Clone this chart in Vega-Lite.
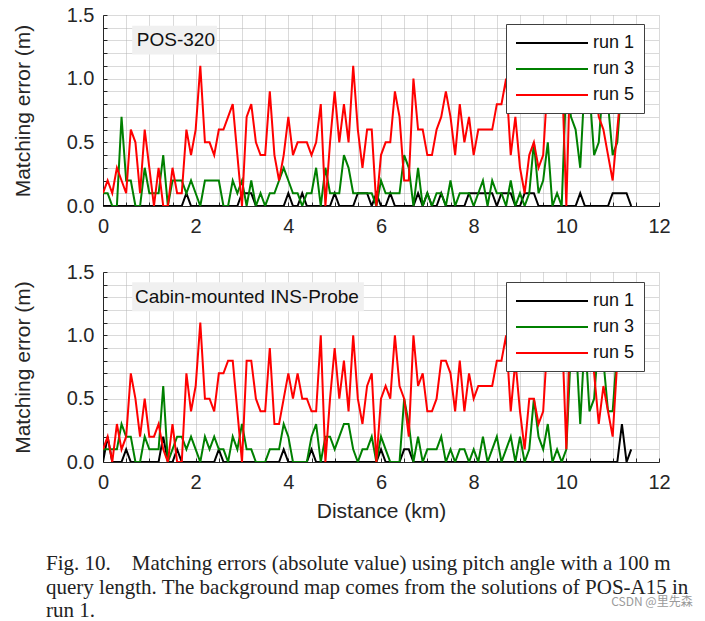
{
"$schema":"https://vega.github.io/schema/vega-lite/v6.json",
"background":"white",
"padding":{"left":12,"top":5,"right":5,"bottom":5},
"config":{"view":{"stroke":null},
"axis":{"labelFont":"Liberation Sans","titleFont":"Liberation Sans","labelFontSize":20,"titleFontSize":21,"titleFontWeight":"normal","labelColor":"#262626","titleColor":"#262626","domainColor":"#262626","tickColor":"#262626","grid":true,"gridColor":"#b4b4b4","gridDash":[1,1],"gridWidth":1,"gridOpacity":1,"ticks":true,"tickSize":-4,"labelFlush":false,"labelOverlap":false,"labelBound":false}},
"datasets":{
"top":[
{"d":0,"run 1":0,"run 3":0.1,"run 5":0.1},{"d":0.1,"run 1":0,"run 3":0.1,"run 5":0.2},{"d":0.2,"run 1":0,"run 3":0,"run 5":0.1},{"d":0.3,"run 1":0,"run 3":0,"run 5":0.3},{"d":0.4,"run 1":0,"run 3":0.7,"run 5":0.2},{"d":0.5,"run 1":0,"run 3":0.2,"run 5":0.1},{"d":0.6,"run 1":0,"run 3":0.2,"run 5":0.6},{"d":0.7,"run 1":0,"run 3":0,"run 5":0.5},{"d":0.8,"run 1":0,"run 3":0,"run 5":0.1},{"d":0.9,"run 1":0,"run 3":0.3,"run 5":0.6},
{"d":1.0,"run 1":0,"run 3":0.1,"run 5":0.3},{"d":1.1,"run 1":0,"run 3":0.1,"run 5":0},{"d":1.2,"run 1":0,"run 3":0.1,"run 5":0.3},{"d":1.3,"run 1":0,"run 3":0.4,"run 5":0},{"d":1.4,"run 1":0,"run 3":0,"run 5":0},{"d":1.5,"run 1":0,"run 3":0.2,"run 5":0.3},{"d":1.6,"run 1":0,"run 3":0.2,"run 5":0.1},{"d":1.7,"run 1":0,"run 3":0.2,"run 5":0.1},{"d":1.8,"run 1":0.1,"run 3":0.1,"run 5":0.6},{"d":1.9,"run 1":0,"run 3":0.2,"run 5":0.4},
{"d":2.0,"run 1":0,"run 3":0.1,"run 5":0.6},{"d":2.1,"run 1":0,"run 3":0,"run 5":1.1},{"d":2.2,"run 1":0,"run 3":0.2,"run 5":0.5},{"d":2.3,"run 1":0,"run 3":0.2,"run 5":0.5},{"d":2.4,"run 1":0,"run 3":0.2,"run 5":0.4},{"d":2.5,"run 1":0,"run 3":0.2,"run 5":0.6},{"d":2.6,"run 1":0,"run 3":0,"run 5":0.6},{"d":2.7,"run 1":0,"run 3":0,"run 5":0.7},{"d":2.8,"run 1":0,"run 3":0.2,"run 5":0.8},{"d":2.9,"run 1":0,"run 3":0.1,"run 5":0.4},
{"d":3.0,"run 1":0.1,"run 3":0.2,"run 5":0},{"d":3.1,"run 1":0.1,"run 3":0,"run 5":0.7},{"d":3.2,"run 1":0.1,"run 3":0.2,"run 5":0.8},{"d":3.3,"run 1":0,"run 3":0,"run 5":0.5},{"d":3.4,"run 1":0,"run 3":0.1,"run 5":0.4},{"d":3.5,"run 1":0,"run 3":0,"run 5":0.4},{"d":3.6,"run 1":0,"run 3":0.1,"run 5":0.9},{"d":3.7,"run 1":0,"run 3":0.1,"run 5":0.4},{"d":3.8,"run 1":0,"run 3":0.2,"run 5":0.2},{"d":3.9,"run 1":0,"run 3":0.3,"run 5":0.4},
{"d":4.0,"run 1":0.1,"run 3":0.2,"run 5":0.7},{"d":4.1,"run 1":0,"run 3":0.1,"run 5":0.4},{"d":4.2,"run 1":0,"run 3":0.1,"run 5":0.5},{"d":4.3,"run 1":0.1,"run 3":0,"run 5":0.5},{"d":4.4,"run 1":0,"run 3":0.1,"run 5":0.5},{"d":4.5,"run 1":0,"run 3":0.1,"run 5":0.4},{"d":4.6,"run 1":0,"run 3":0.3,"run 5":0.5},{"d":4.7,"run 1":0,"run 3":0,"run 5":0.8},{"d":4.8,"run 1":0,"run 3":0.3,"run 5":0},{"d":4.9,"run 1":0,"run 3":0.1,"run 5":0.5},
{"d":5.0,"run 1":0.1,"run 3":0.1,"run 5":0.9},{"d":5.1,"run 1":0,"run 3":0.1,"run 5":0.5},{"d":5.2,"run 1":0,"run 3":0.4,"run 5":0.8},{"d":5.3,"run 1":0,"run 3":0.3,"run 5":0.5},{"d":5.4,"run 1":0,"run 3":0.1,"run 5":1.1},{"d":5.5,"run 1":0.1,"run 3":0.1,"run 5":0.6},{"d":5.6,"run 1":0.1,"run 3":0.1,"run 5":0.3},{"d":5.7,"run 1":0.1,"run 3":0.1,"run 5":0.6},{"d":5.8,"run 1":0,"run 3":0.1,"run 5":0.6},{"d":5.9,"run 1":0.1,"run 3":0,"run 5":0},
{"d":6.0,"run 1":0,"run 3":0.2,"run 5":0.4},{"d":6.1,"run 1":0,"run 3":0.1,"run 5":0.5},{"d":6.2,"run 1":0.1,"run 3":0.1,"run 5":0.5},{"d":6.3,"run 1":0,"run 3":0.1,"run 5":0.9},{"d":6.4,"run 1":0,"run 3":0.1,"run 5":0.7},{"d":6.5,"run 1":0,"run 3":0.4,"run 5":0.2},{"d":6.6,"run 1":0,"run 3":0.3,"run 5":0.2},{"d":6.7,"run 1":0,"run 3":0,"run 5":1.0},{"d":6.8,"run 1":0.1,"run 3":0.3,"run 5":0.6},{"d":6.9,"run 1":0,"run 3":0,"run 5":0.6},
{"d":7.0,"run 1":0.1,"run 3":0.1,"run 5":0.4},{"d":7.1,"run 1":0,"run 3":0,"run 5":0.4},{"d":7.2,"run 1":0,"run 3":0.1,"run 5":0.6},{"d":7.3,"run 1":0.1,"run 3":0.1,"run 5":0.7},{"d":7.4,"run 1":0,"run 3":0,"run 5":0.9},{"d":7.5,"run 1":0,"run 3":0.2,"run 5":0.7},{"d":7.6,"run 1":0,"run 3":0,"run 5":0.4},{"d":7.7,"run 1":0,"run 3":0.1,"run 5":0.8},{"d":7.8,"run 1":0,"run 3":0.1,"run 5":0.5},{"d":7.9,"run 1":0.1,"run 3":0.1,"run 5":0.7},
{"d":8.0,"run 1":0.1,"run 3":0,"run 5":0.4},{"d":8.1,"run 1":0.1,"run 3":0.1,"run 5":0.6},{"d":8.2,"run 1":0.1,"run 3":0.2,"run 5":0.6},{"d":8.3,"run 1":0.1,"run 3":0,"run 5":0.6},{"d":8.4,"run 1":0.1,"run 3":0.2,"run 5":0.6},{"d":8.5,"run 1":0,"run 3":0.1,"run 5":0.8},{"d":8.6,"run 1":0.1,"run 3":0.1,"run 5":0.8},{"d":8.7,"run 1":0.1,"run 3":0,"run 5":1.0},{"d":8.8,"run 1":0.1,"run 3":0.2,"run 5":0.4},{"d":8.9,"run 1":0,"run 3":0,"run 5":0.7},
{"d":9.0,"run 1":0,"run 3":0.1,"run 5":0.3},{"d":9.1,"run 1":0.1,"run 3":0,"run 5":0.1},{"d":9.2,"run 1":0.1,"run 3":0.1,"run 5":0.4},{"d":9.3,"run 1":0.1,"run 3":0.5,"run 5":0.5},{"d":9.4,"run 1":0,"run 3":0.1,"run 5":0.3},{"d":9.5,"run 1":0,"run 3":0.2,"run 5":0.4},{"d":9.6,"run 1":0,"run 3":0.5,"run 5":1.0},{"d":9.7,"run 1":0,"run 3":0,"run 5":1.2},{"d":9.8,"run 1":0,"run 3":0.1,"run 5":0.9},{"d":9.9,"run 1":0,"run 3":0,"run 5":1.1},
{"d":10.0,"run 1":0,"run 3":1.0,"run 5":0},{"d":10.1,"run 1":0,"run 3":0.7,"run 5":1.3},{"d":10.2,"run 1":0,"run 3":0.6,"run 5":1.0},{"d":10.3,"run 1":0.1,"run 3":0.3,"run 5":0.9},{"d":10.4,"run 1":0,"run 3":1.0,"run 5":1.1},{"d":10.5,"run 1":0,"run 3":0.9,"run 5":0.8},{"d":10.6,"run 1":0,"run 3":0.4,"run 5":1.0},{"d":10.7,"run 1":0,"run 3":0.5,"run 5":0.7},{"d":10.8,"run 1":0,"run 3":1.0,"run 5":0.6},{"d":10.9,"run 1":0,"run 3":0.8,"run 5":0.4},
{"d":11.0,"run 1":0.1,"run 3":0.4,"run 5":0.2},{"d":11.1,"run 1":0.1,"run 3":0.5,"run 5":0.6},{"d":11.2,"run 1":0.1,"run 3":1.0,"run 5":1.0},{"d":11.3,"run 1":0.1},{"d":11.4,"run 1":0}
],
"bottom":[
{"d":0,"run 1":0,"run 3":0.1,"run 5":0.1},{"d":0.1,"run 1":0.2,"run 3":0.1,"run 5":0.2},{"d":0.2,"run 1":0,"run 3":0.1,"run 5":0},{"d":0.3,"run 1":0,"run 3":0.1,"run 5":0.3},{"d":0.4,"run 1":0,"run 3":0.3,"run 5":0.1},{"d":0.5,"run 1":0.1,"run 3":0.2,"run 5":0.2},{"d":0.6,"run 1":0,"run 3":0.2,"run 5":0.7},{"d":0.7,"run 1":0,"run 3":0,"run 5":0.5},{"d":0.8,"run 1":0,"run 3":0,"run 5":0.2},{"d":0.9,"run 1":0,"run 3":0.2,"run 5":0.5},
{"d":1.0,"run 1":0,"run 3":0.1,"run 5":0.2},{"d":1.1,"run 1":0,"run 3":0.1,"run 5":0.2},{"d":1.2,"run 1":0,"run 3":0.1,"run 5":0.3},{"d":1.3,"run 1":0.2,"run 3":0.6,"run 5":0.1},{"d":1.4,"run 1":0,"run 3":0,"run 5":0},{"d":1.5,"run 1":0,"run 3":0.1,"run 5":0.3},{"d":1.6,"run 1":0.1,"run 3":0.2,"run 5":0},{"d":1.7,"run 1":0,"run 3":0.2,"run 5":0},{"d":1.8,"run 1":0,"run 3":0.1,"run 5":0.7},{"d":1.9,"run 1":0,"run 3":0.2,"run 5":0.4},
{"d":2.0,"run 1":0,"run 3":0.1,"run 5":0.6},{"d":2.1,"run 1":0,"run 3":0,"run 5":1.1},{"d":2.2,"run 1":0,"run 3":0.2,"run 5":0.5},{"d":2.3,"run 1":0,"run 3":0.1,"run 5":0.5},{"d":2.4,"run 1":0,"run 3":0.2,"run 5":0.4},{"d":2.5,"run 1":0.1,"run 3":0.1,"run 5":0.7},{"d":2.6,"run 1":0,"run 3":0.1,"run 5":0.7},{"d":2.7,"run 1":0,"run 3":0,"run 5":0.8},{"d":2.8,"run 1":0,"run 3":0.2,"run 5":0.8},{"d":2.9,"run 1":0,"run 3":0.1,"run 5":0.4},
{"d":3.0,"run 1":0,"run 3":0.3,"run 5":0},{"d":3.1,"run 1":0,"run 3":0.1,"run 5":0.8},{"d":3.2,"run 1":0,"run 3":0.1,"run 5":0.8},{"d":3.3,"run 1":0,"run 3":0,"run 5":0.5},{"d":3.4,"run 1":0,"run 3":0,"run 5":0.4},{"d":3.5,"run 1":0,"run 3":0,"run 5":0.4},{"d":3.6,"run 1":0,"run 3":0.1,"run 5":0.9},{"d":3.7,"run 1":0,"run 3":0.1,"run 5":0.3},{"d":3.8,"run 1":0,"run 3":0.1,"run 5":0.3},{"d":3.9,"run 1":0.1,"run 3":0.3,"run 5":0.5},
{"d":4.0,"run 1":0,"run 3":0.2,"run 5":0.7},{"d":4.1,"run 1":0,"run 3":0,"run 5":0.5},{"d":4.2,"run 1":0,"run 3":0,"run 5":0.7},{"d":4.3,"run 1":0,"run 3":0,"run 5":0.5},{"d":4.4,"run 1":0,"run 3":0,"run 5":0.5},{"d":4.5,"run 1":0.1,"run 3":0.2,"run 5":0.4},{"d":4.6,"run 1":0,"run 3":0.3,"run 5":0.4},{"d":4.7,"run 1":0,"run 3":0,"run 5":1.0},{"d":4.8,"run 1":0,"run 3":0.2,"run 5":0},{"d":4.9,"run 1":0,"run 3":0.2,"run 5":0.5},
{"d":5.0,"run 1":0,"run 3":0.1,"run 5":0.9},{"d":5.1,"run 1":0,"run 3":0.2,"run 5":0.5},{"d":5.2,"run 1":0,"run 3":0.3,"run 5":0.8},{"d":5.3,"run 1":0,"run 3":0.3,"run 5":0.4},{"d":5.4,"run 1":0,"run 3":0.1,"run 5":1.0},{"d":5.5,"run 1":0,"run 3":0,"run 5":0.5},{"d":5.6,"run 1":0,"run 3":0.1,"run 5":0.3},{"d":5.7,"run 1":0,"run 3":0.1,"run 5":0.6},{"d":5.8,"run 1":0,"run 3":0.2,"run 5":0.7},{"d":5.9,"run 1":0,"run 3":0,"run 5":0},
{"d":6.0,"run 1":0.1,"run 3":0.2,"run 5":0.5},{"d":6.1,"run 1":0,"run 3":0.1,"run 5":0.6},{"d":6.2,"run 1":0,"run 3":0,"run 5":0.5},{"d":6.3,"run 1":0,"run 3":0,"run 5":1.0},{"d":6.4,"run 1":0,"run 3":0,"run 5":0.6},{"d":6.5,"run 1":0.1,"run 3":0.5,"run 5":0.5},{"d":6.6,"run 1":0.1,"run 3":0.3,"run 5":0.2},{"d":6.7,"run 1":0,"run 3":0,"run 5":1.0},{"d":6.8,"run 1":0,"run 3":0.2,"run 5":0.6},{"d":6.9,"run 1":0,"run 3":0,"run 5":0.7},
{"d":7.0,"run 1":0,"run 3":0.1,"run 5":0.4},{"d":7.1,"run 1":0,"run 3":0.1,"run 5":0.4},{"d":7.2,"run 1":0,"run 3":0.1,"run 5":0.5},{"d":7.3,"run 1":0,"run 3":0.2,"run 5":0.8},{"d":7.4,"run 1":0,"run 3":0,"run 5":0.8},{"d":7.5,"run 1":0,"run 3":0.1,"run 5":0.7},{"d":7.6,"run 1":0,"run 3":0,"run 5":0.4},{"d":7.7,"run 1":0,"run 3":0.1,"run 5":0.8},{"d":7.8,"run 1":0,"run 3":0.1,"run 5":0.4},{"d":7.9,"run 1":0,"run 3":0,"run 5":0.7},
{"d":8.0,"run 1":0,"run 3":0.1,"run 5":0.5},{"d":8.1,"run 1":0,"run 3":0,"run 5":0.6},{"d":8.2,"run 1":0,"run 3":0.2,"run 5":0.6},{"d":8.3,"run 1":0,"run 3":0,"run 5":0.6},{"d":8.4,"run 1":0,"run 3":0.1,"run 5":0.6},{"d":8.5,"run 1":0,"run 3":0.2,"run 5":0.8},{"d":8.6,"run 1":0,"run 3":0,"run 5":0.8},{"d":8.7,"run 1":0,"run 3":0.1,"run 5":1.0},{"d":8.8,"run 1":0,"run 3":0.2,"run 5":0.4},{"d":8.9,"run 1":0,"run 3":0,"run 5":0.8},
{"d":9.0,"run 1":0,"run 3":0.2,"run 5":0.4},{"d":9.1,"run 1":0,"run 3":0,"run 5":0.1},{"d":9.2,"run 1":0,"run 3":0.1,"run 5":0.5},{"d":9.3,"run 1":0,"run 3":0.5,"run 5":0.5},{"d":9.4,"run 1":0,"run 3":0.2,"run 5":0.3},{"d":9.5,"run 1":0,"run 3":0.1,"run 5":0.4},{"d":9.6,"run 1":0,"run 3":0.3,"run 5":1.0},{"d":9.7,"run 1":0,"run 3":0,"run 5":1.2},{"d":9.8,"run 1":0,"run 3":0.1,"run 5":0.9},{"d":9.9,"run 1":0,"run 3":0,"run 5":1.1},
{"d":10.0,"run 1":0,"run 3":0.1,"run 5":0.1},{"d":10.1,"run 1":0,"run 3":0.9,"run 5":1.3},{"d":10.2,"run 1":0,"run 3":1.0,"run 5":1.0},{"d":10.3,"run 1":0,"run 3":0.3,"run 5":1.1},{"d":10.4,"run 1":0,"run 3":1.0,"run 5":0.9},{"d":10.5,"run 1":0,"run 3":0.4,"run 5":1.2},{"d":10.6,"run 1":0,"run 3":0.5,"run 5":0.7},{"d":10.7,"run 1":0,"run 3":1.0,"run 5":0.3},{"d":10.8,"run 1":0,"run 3":0.8,"run 5":0.6},{"d":10.9,"run 1":0,"run 3":0.4,"run 5":0.4},
{"d":11.0,"run 1":0,"run 3":0.4,"run 5":0.2},{"d":11.1,"run 1":0,"run 3":0.9,"run 5":0.8},{"d":11.2,"run 1":0.3,"run 3":1.1,"run 5":1.0},{"d":11.3,"run 1":0},{"d":11.4,"run 1":0.1}
]},
"title":{"text":"CSDN @里先森","orient":"bottom","anchor":"end","font":"Noto Sans CJK SC","fontSize":12,"fontWeight":"normal","color":"#9a9a9a","offset":-24,"dx":4},
"spacing":26,
"resolve":{"scale":{"color":"independent"},"legend":{"color":"independent"}},
"vconcat":[
{"width":556,"height":191,
"layer":[
{"data":{"name":"top"},"transform":[{"fold":["run 1","run 3","run 5"],"as":["run","err"]}],
"mark":{"type":"line","strokeWidth":2,"clip":true},
"encoding":{
"x":{"field":"d","type":"quantitative","scale":{"domain":[0,12],"nice":false},"axis":{"grid":true,"tickCount":100,"labelOverlap":false,"values":[0,0.5,1,1.5,2,2.5,3,3.5,4,4.5,5,5.5,6,6.5,7,7.5,8,8.5,9,9.5,10,10.5,11,11.5,12],"labelExpr":"(datum.value % 2 == 0) ? format(datum.value, '.0f') : ''","labelPadding":14,"title":null}},
"y":{"field":"err","type":"quantitative","scale":{"domain":[0,1.5],"nice":false},"axis":{"grid":true,"tickCount":100,"labelOverlap":false,"values":[0,0.1,0.2,0.3,0.4,0.5,0.6,0.7,0.8,0.9,1,1.1,1.2,1.3,1.4,1.5],"format":".1f","labelExpr":"indexof(['0.0','0.5','1.0','1.5'], datum.label) >= 0 ? datum.label : ''","labelPadding":13,"title":"Matching error (m)","titlePadding":33}},
"color":{"field":"run","type":"nominal","scale":{"domain":["run 1","run 3","run 5"],"range":["#000000","#008000","#ff0000"]},
"legend":{"orient":"none","legendX":403,"legendY":9,"title":null,"symbolType":"M-4,0L4,0","symbolSize":324,"symbolOffset":27,"symbolStrokeWidth":2,"labelFontSize":18,"labelFont":"Liberation Sans","labelColor":"#111","fillColor":"#ffffff","strokeColor":"#404040","padding":9,"rowPadding":7,"labelOffset":31}}}},
{"data":{"values":[{"label":"POS-320"}]},"mark":{"type":"rect","fill":"#f0f0f0"},"encoding":{"x":{"datum":0.63,"type":"quantitative"},"x2":{"datum":2.46},"y":{"datum":1.415,"type":"quantitative"},"y2":{"datum":1.19}}},
{"data":{"values":[{"label":"POS-320"}]},"mark":{"type":"text","align":"left","baseline":"middle","font":"Liberation Sans","fontSize":19,"color":"#111"},"encoding":{"x":{"datum":0.73,"type":"quantitative"},"y":{"datum":1.30,"type":"quantitative"},"text":{"field":"label"}}}
]},
{"width":556,"height":190,
"title":{"text":["Fig. 10.\u00a0\u00a0\u00a0\u00a0Matching errors (absolute value) using pitch angle with a 100 m","query length. The background map comes from the solutions of POS-A15 in","run 1."],"orient":"bottom","anchor":"start","frame":"group","dx":-57,"offset":32,"font":"Liberation Serif","fontSize":21,"fontWeight":"normal","lineHeight":23.5,"color":"#222"},
"layer":[
{"data":{"name":"bottom"},"transform":[{"fold":["run 1","run 3","run 5"],"as":["run","err"]}],
"mark":{"type":"line","strokeWidth":2,"clip":true},
"encoding":{
"x":{"field":"d","type":"quantitative","scale":{"domain":[0,12],"nice":false},"axis":{"grid":true,"tickCount":100,"labelOverlap":false,"values":[0,0.5,1,1.5,2,2.5,3,3.5,4,4.5,5,5.5,6,6.5,7,7.5,8,8.5,9,9.5,10,10.5,11,11.5,12],"labelExpr":"(datum.value % 2 == 0) ? format(datum.value, '.0f') : ''","labelPadding":14,"title":"Distance (km)","titlePadding":8}},
"y":{"field":"err","type":"quantitative","scale":{"domain":[0,1.5],"nice":false},"axis":{"grid":true,"tickCount":100,"labelOverlap":false,"values":[0,0.1,0.2,0.3,0.4,0.5,0.6,0.7,0.8,0.9,1,1.1,1.2,1.3,1.4,1.5],"format":".1f","labelExpr":"indexof(['0.0','0.5','1.0','1.5'], datum.label) >= 0 ? datum.label : ''","labelPadding":13,"title":"Matching error (m)","titlePadding":33}},
"color":{"field":"run","type":"nominal","scale":{"domain":["run 1","run 3","run 5"],"range":["#000000","#008000","#ff0000"]},
"legend":{"orient":"none","legendX":403,"legendY":10,"title":null,"symbolType":"M-4,0L4,0","symbolSize":324,"symbolOffset":27,"symbolStrokeWidth":2,"labelFontSize":18,"labelFont":"Liberation Sans","labelColor":"#111","fillColor":"#ffffff","strokeColor":"#404040","padding":9,"rowPadding":7,"labelOffset":31}}}},
{"data":{"values":[{"label":"Cabin-mounted INS-Probe"}]},"mark":{"type":"rect","fill":"#f0f0f0"},"encoding":{"x":{"datum":0.63,"type":"quantitative"},"x2":{"datum":5.63},"y":{"datum":1.42,"type":"quantitative"},"y2":{"datum":1.19}}},
{"data":{"values":[{"label":"Cabin-mounted INS-Probe"}]},"mark":{"type":"text","align":"left","baseline":"middle","font":"Liberation Sans","fontSize":19,"color":"#111"},"encoding":{"x":{"datum":0.69,"type":"quantitative"},"y":{"datum":1.305,"type":"quantitative"},"text":{"field":"label"}}}
]}
]
}
